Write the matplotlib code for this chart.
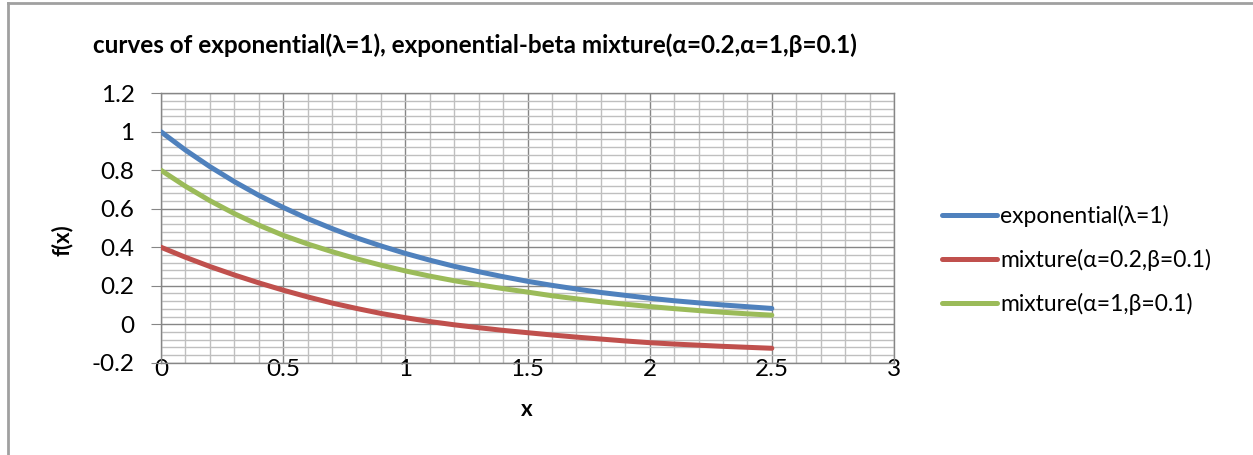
import numpy as np
import matplotlib.pyplot as plt
from matplotlib.ticker import MultipleLocator
from matplotlib.lines import Line2D

plt.rcParams['font.family'] = ['Lato', 'DejaVu Sans']

# sample points and curve values
x = [0.0, 0.1, 0.2, 0.3, 0.4, 0.5, 0.6, 0.7, 0.8, 0.9, 1.0, 1.1, 1.2,
     1.3, 1.4, 1.5, 1.6, 1.7, 1.8, 1.9, 2.0, 2.1, 2.2, 2.3, 2.4, 2.5]
expo = [1.000, 0.905, 0.819, 0.741, 0.670, 0.607, 0.549, 0.497, 0.449,
        0.407, 0.368, 0.333, 0.301, 0.273, 0.247, 0.223, 0.202, 0.183,
        0.165, 0.150, 0.135, 0.122, 0.111, 0.100, 0.091, 0.082]
mix_a02 = [0.400, 0.348, 0.300, 0.256, 0.215, 0.177, 0.142, 0.110, 0.082,
           0.056, 0.034, 0.014, -0.003, -0.018, -0.032, -0.044, -0.056,
           -0.067, -0.077, -0.087, -0.096, -0.103, -0.109, -0.115, -0.120,
           -0.125]
mix_a1 = [0.800, 0.717, 0.642, 0.575, 0.515, 0.462, 0.417, 0.377, 0.340,
          0.307, 0.277, 0.250, 0.226, 0.205, 0.185, 0.167, 0.148, 0.132,
          0.117, 0.104, 0.092, 0.081, 0.071, 0.062, 0.054, 0.047]

labels = ['exponential(λ=1)', 'mixture(α=0.2,β=0.1)', 'mixture(α=1,β=0.1)']
colors = ['#4F81BD', '#C0504D', '#9BBB59']

xticks = [0, 0.5, 1, 1.5, 2, 2.5, 3]
xtick_labels = ['0', '0.5', '1', '1.5', '2', '2.5', '3']
yticks = [-0.2, 0, 0.2, 0.4, 0.6, 0.8, 1.0, 1.2]
ytick_labels = ['-0.2', '0', '0.2', '0.4', '0.6', '0.8', '1', '1.2']

W, H = 1253, 455
fig = plt.figure(figsize=(W / 100, H / 100), dpi=100)
ax = fig.add_axes([161 / W, 1 - 362.7 / H, (894 - 161) / W, (362.7 - 93.3) / H])

for ys, c, lab in zip([expo, mix_a02, mix_a1], colors, labels):
    ax.plot(x, ys, color=c, lw=3.6, solid_capstyle='round', label=lab, zorder=3)

ax.set_xlim(0, 3)
ax.set_ylim(-0.2, 1.2)
ax.set_xticks(xticks)
ax.set_xticklabels(xtick_labels)
ax.set_yticks(yticks)
ax.set_yticklabels(ytick_labels)
ax.xaxis.set_minor_locator(MultipleLocator(0.1))
ax.yaxis.set_minor_locator(MultipleLocator(0.04))

ax.grid(which='minor', color='#BFBFBF', lw=1.0)
ax.grid(which='major', color='#868686', lw=1.0)
ax.set_axisbelow(True)
for s in ax.spines.values():
    s.set_color('#868686')
    s.set_linewidth(1.0)

ax.tick_params(axis='y', which='major', length=7, color='#868686',
               labelsize=17.5, pad=12)
ax.tick_params(axis='x', which='major', length=0, labelsize=17.5, pad=-3)
ax.tick_params(which='minor', length=0)

fig.text(475 / W, 1 - 45 / H,
         'curves of exponential(λ=1), exponential-beta mixture(α=0.2,α=1,β=0.1)',
         ha='center', va='center', fontsize=17.5, fontweight='bold')
fig.text(62 / W, 1 - 240 / H, 'f(x)', rotation=90, ha='center', va='center',
         fontsize=16, fontweight='bold')
fig.text(527 / W, 1 - 410 / H, 'x', ha='center', va='center',
         fontsize=16, fontweight='bold')

fig.legend(loc='center left', bbox_to_anchor=(942 / W, 1 - 259.7 / H),
           frameon=False, fontsize=16.5, handlelength=2.4, handletextpad=0.15,
           labelspacing=0.95, borderpad=0, borderaxespad=0)

# chart outline (left and top edges)
fig.add_artist(Line2D([8 / W, 8 / W], [0, 1 - 3 / H], transform=fig.transFigure,
                      color='#A0A0A0', lw=2))
fig.add_artist(Line2D([8 / W, 1], [1 - 3 / H, 1 - 3 / H], transform=fig.transFigure,
                      color='#A0A0A0', lw=2))

fig.savefig('out.png', dpi=100)
